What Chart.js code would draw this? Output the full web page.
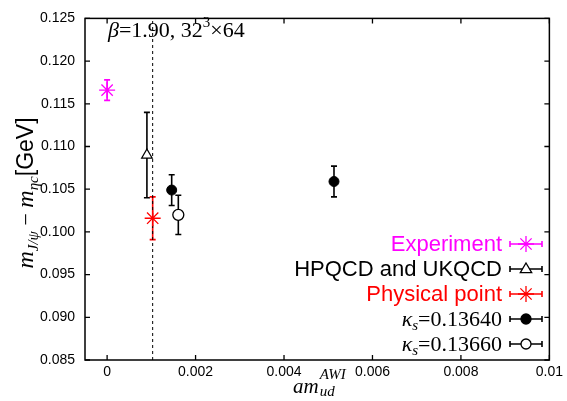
<!DOCTYPE html>
<html>
<head>
<meta charset="utf-8">
<script src="https://cdn.jsdelivr.net/npm/chart.js@4.4.0/dist/chart.umd.min.js"></script>
<style>
html, body { margin: 0; padding: 0; background: #fff; }
#wrap { width: 567px; height: 401px; position: relative; }
</style>
</head>
<body>
<div id="wrap"><canvas id="chart"></canvas></div>
<script>
// values
const expX = [0];
const expY = [0.1166];
const expErr = [0.0012];

const hpqcdX = [0.0009];
const hpqcdY = [0.1090];
const hpqcdErr = [0.0050];

const physX = [0.00103];
const physY = [0.1016];
const physErr = [0.0025];

const k13640X = [0.00146, 0.00513];
const k13640Y = [0.1049, 0.1059];
const k13640Err = [0.0018, 0.0018];

const k13660X = [0.00161];
const k13660Y = [0.1020];
const k13660Err = [0.0023];

const physLineX = [0.00103, 0.00103];
const physLineY = [0.085, 0.125];

const xTicks = [0, 0.002, 0.004, 0.006, 0.008, 0.01];
const xTickLabels = ['0', '0.002', '0.004', '0.006', '0.008', '0.01'];
const yTicks = [0.085, 0.09, 0.095, 0.1, 0.105, 0.11, 0.115, 0.12, 0.125];
const yTickLabels = ['0.085', '0.090', '0.095', '0.100', '0.105', '0.110', '0.115', '0.120', '0.125'];

const legendNames = ['Experiment', 'HPQCD and UKQCD', 'Physical point', '0.13640', '0.13660'];

const SERIF = '"Liberation Serif", "DejaVu Serif", serif';
const SANS = '"Liberation Sans", Arial, sans-serif';

function points(xs, ys) {
    return xs.map((x, i) => ({ x: x, y: ys[i] }));
}

function drawRich(ctx, parts, x, y, align) {
    let total = 0;
    parts.forEach(p => { ctx.font = p.f; total += ctx.measureText(p.t).width; });
    let cx = align === 'center' ? x - total / 2 : align === 'right' ? x - total : x;
    parts.forEach(p => {
        ctx.font = p.f;
        ctx.fillText(p.t, cx, y + (p.dy || 0));
        cx += ctx.measureText(p.t).width;
    });
}

function drawGlyph(ctx, style, x, y, color) {
    ctx.save();
    ctx.strokeStyle = color;
    ctx.lineWidth = 1.3;
    ctx.beginPath();
    if (style === 'star') {
        const r = 8;
        for (let k = 0; k < 4; k++) {
            const a = k * Math.PI / 4;
            ctx.moveTo(x - r * Math.cos(a), y - r * Math.sin(a));
            ctx.lineTo(x + r * Math.cos(a), y + r * Math.sin(a));
        }
        ctx.stroke();
    } else if (style === 'triangle') {
        const r = 6;
        ctx.moveTo(x, y - r);
        ctx.lineTo(x + r * 0.95, y + r * 0.6);
        ctx.lineTo(x - r * 0.95, y + r * 0.6);
        ctx.closePath();
        ctx.fillStyle = '#fff';
        ctx.fill();
        ctx.stroke();
    } else {
        ctx.arc(x, y, 5, 0, Math.PI * 2);
        ctx.fillStyle = style === 'filled' ? '#000' : '#fff';
        ctx.fill();
        ctx.stroke();
    }
    ctx.restore();
}

const decorPlugin = {
    id: 'decor',
    beforeDatasetsDraw(chart) {
        const ctx = chart.ctx;
        const xs = chart.scales.x, ys = chart.scales.y;
        ctx.save();
        chart.data.datasets.forEach(ds => {
            if (!ds.err) return;
            ctx.strokeStyle = ds.barColor;
            ctx.lineWidth = 1.6;
            ds.data.forEach((p, i) => {
                const px = xs.getPixelForValue(p.x);
                const top = ys.getPixelForValue(p.y + ds.err[i]);
                const bot = ys.getPixelForValue(p.y - ds.err[i]);
                ctx.beginPath();
                ctx.moveTo(px, top); ctx.lineTo(px, bot);
                ctx.moveTo(px - 3, top); ctx.lineTo(px + 3, top);
                ctx.moveTo(px - 3, bot); ctx.lineTo(px + 3, bot);
                ctx.stroke();
            });
        });
        ctx.restore();
    },
    afterDraw(chart) {
        const ctx = chart.ctx;
        const a = chart.chartArea;
        const xs = chart.scales.x, ys = chart.scales.y;
        ctx.save();
        // frame and inner ticks
        ctx.strokeStyle = '#000';
        ctx.lineWidth = 1.5;
        ctx.strokeRect(a.left, a.top, a.right - a.left, a.bottom - a.top);
        ctx.lineWidth = 1.3;
        ctx.beginPath();
        xTicks.forEach(v => {
            const px = xs.getPixelForValue(v);
            ctx.moveTo(px, a.bottom); ctx.lineTo(px, a.bottom - 5);
            ctx.moveTo(px, a.top); ctx.lineTo(px, a.top + 5);
        });
        yTicks.forEach(v => {
            const py = ys.getPixelForValue(v);
            ctx.moveTo(a.left, py); ctx.lineTo(a.left + 5, py);
            ctx.moveTo(a.right, py); ctx.lineTo(a.right - 5, py);
        });
        ctx.stroke();

        ctx.fillStyle = '#000';
        ctx.textBaseline = 'alphabetic';

        // beta label
        drawRich(ctx, [
            { t: 'β', f: 'italic 22px ' + SERIF },
            { t: '=1.90, 32', f: '22px ' + SERIF },
            { t: '3', f: '15px ' + SERIF, dy: -10 },
            { t: '×64', f: '22px ' + SERIF }
        ], 108, 37, 'left');

        // x title
        ctx.font = 'italic 21px ' + SERIF;
        const amX = 293;
        ctx.fillText('am', amX, 393);
        const amW = ctx.measureText('am').width;
        ctx.font = 'italic 15px ' + SERIF;
        ctx.fillText('AWI', amX + amW + 1, 379);
        ctx.fillText('ud', amX + amW + 1, 396);

        // y title
        ctx.save();
        ctx.translate(33, 193);
        ctx.rotate(-Math.PI / 2);
        drawRich(ctx, [
            { t: 'm', f: 'italic 24px ' + SERIF },
            { t: 'J/ψ', f: 'italic 15px ' + SERIF, dy: 5 },
            { t: ' − ', f: '22px ' + SERIF },
            { t: 'm', f: 'italic 24px ' + SERIF },
            { t: 'ηc', f: 'italic 15px ' + SERIF, dy: 5 },
            { t: '[GeV]', f: '23px ' + SANS }
        ], 0, 0, 'center');
        ctx.restore();

        // legend
        const rows = chart.data.datasets.filter(ds => ds.legendRow !== undefined);
        rows.forEach(ds => {
            const y = 244 + ds.legendRow * 25;
            const name = legendNames[ds.legendRow];
            if (ds.legendRow >= 3) {
                ctx.fillStyle = '#000';
                drawRich(ctx, [
                    { t: 'κ', f: 'italic 22px ' + SERIF },
                    { t: 's', f: 'italic 15px ' + SERIF, dy: 4 },
                    { t: '=' + name, f: '22px ' + SERIF }
                ], 502, y + 7, 'right');
            } else {
                ctx.fillStyle = ds.barColor;
                ctx.font = '22px ' + SANS;
                ctx.textAlign = 'right';
                ctx.fillText(name, 502, y + 7);
                ctx.textAlign = 'left';
            }
            ctx.strokeStyle = ds.barColor;
            ctx.lineWidth = 1.6;
            ctx.beginPath();
            ctx.moveTo(510, y); ctx.lineTo(542, y);
            ctx.moveTo(510, y - 3); ctx.lineTo(510, y + 3);
            ctx.moveTo(542, y - 3); ctx.lineTo(542, y + 3);
            ctx.stroke();
            drawGlyph(ctx, ds.glyph, 526, y, ds.barColor);
        });
        ctx.restore();
    }
};

new Chart(document.getElementById('chart'), {
    type: 'scatter',
    data: {
        datasets: [
            {
                data: points(expX, expY), err: expErr, barColor: '#ff00ff', legendRow: 0, glyph: 'star',
                pointStyle: 'star', pointRadius: 8, pointBorderColor: '#ff00ff', pointBorderWidth: 1.3
            },
            {
                data: points(hpqcdX, hpqcdY), err: hpqcdErr, barColor: '#000', legendRow: 1, glyph: 'triangle',
                pointStyle: 'triangle', pointRadius: 6, pointBackgroundColor: '#fff', pointBorderColor: '#000', pointBorderWidth: 1.3
            },
            {
                data: points(physX, physY), err: physErr, barColor: '#ff0000', legendRow: 2, glyph: 'star',
                pointStyle: 'star', pointRadius: 8, pointBorderColor: '#ff0000', pointBorderWidth: 1.3
            },
            {
                data: points(k13640X, k13640Y), err: k13640Err, barColor: '#000', legendRow: 3, glyph: 'filled',
                pointStyle: 'circle', pointRadius: 5, pointBackgroundColor: '#000', pointBorderColor: '#000', pointBorderWidth: 1
            },
            {
                data: points(k13660X, k13660Y), err: k13660Err, barColor: '#000', legendRow: 4, glyph: 'open',
                pointStyle: 'circle', pointRadius: 5.5, pointBackgroundColor: '#fff', pointBorderColor: '#000', pointBorderWidth: 1.3
            },
            {
                type: 'line', data: points(physLineX, physLineY), showLine: true,
                borderColor: '#000', borderWidth: 1, borderDash: [3, 3], pointRadius: 0, fill: false
            }
        ]
    },
    options: {
        responsive: true,
        maintainAspectRatio: false,
        animation: false,
        layout: { padding: { top: 10, right: 14, left: 0, bottom: 0 } },
        plugins: { legend: { display: false }, tooltip: { enabled: false } },
        scales: {
            x: {
                type: 'linear', min: -0.0005, max: 0.01,
                grid: { display: false, drawTicks: false },
                border: { display: false },
                afterBuildTicks: s => { s.ticks = xTicks.map(v => ({ value: v })); },
                afterFit: s => { s.height = 41; },
                ticks: {
                    color: '#000', padding: 4, autoSkip: false, maxRotation: 0,
                    font: { family: SANS, size: 14 },
                    callback: (v, i) => xTickLabels[i]
                }
            },
            y: {
                type: 'linear', min: 0.085, max: 0.125,
                grid: { display: false, drawTicks: false },
                border: { display: false },
                afterBuildTicks: s => { s.ticks = yTicks.map(v => ({ value: v })); },
                afterFit: s => { s.width = 85; },
                ticks: {
                    color: '#000', padding: 10, autoSkip: false,
                    font: { family: SANS, size: 14 },
                    callback: (v, i) => yTickLabels[i]
                }
            }
        }
    },
    plugins: [decorPlugin]
});
</script>
</body>
</html>
